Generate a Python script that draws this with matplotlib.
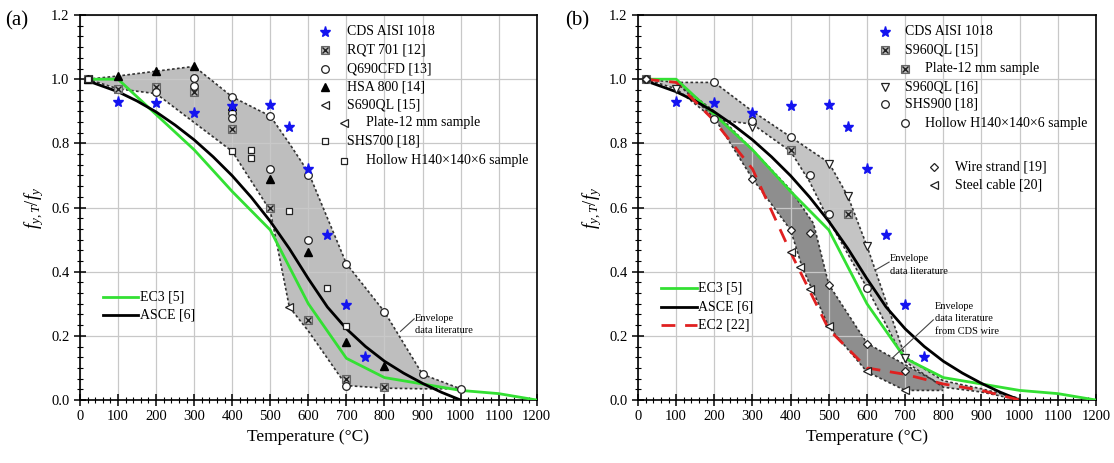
import matplotlib.pyplot as plt
from matplotlib.ticker import MultipleLocator

plt.rcParams['font.family'] = ['Liberation Serif', 'DejaVu Serif']
plt.rcParams['mathtext.fontset'] = 'custom'
plt.rcParams['mathtext.rm'] = 'Liberation Serif'
plt.rcParams['mathtext.it'] = 'Liberation Serif:italic'

# design curves
EC3_T = [20, 100, 200, 300, 400, 500, 600, 700, 800, 900, 1000, 1100, 1200]
EC3_K = [1.00, 1.00, 0.89, 0.78, 0.65, 0.53, 0.30, 0.13, 0.07, 0.05, 0.03, 0.02, 0.00]
ASCE_T = [20, 100, 150, 200, 250, 300, 350, 400, 450, 500, 550, 600,
          650, 700, 750, 800, 850, 900, 950, 1000]
ASCE_K = [0.995, 0.961, 0.932, 0.898, 0.857, 0.811, 0.758, 0.699, 0.632, 0.557,
          0.472, 0.378, 0.290, 0.222, 0.167, 0.121, 0.084, 0.052, 0.024, 0.0]
EC2_T = [20, 100, 200, 300, 400, 500, 600, 700, 800, 900, 1000]
EC2_K = [1.00, 0.99, 0.87, 0.72, 0.46, 0.22, 0.10, 0.08, 0.05, 0.03, 0.00]

# CDS AISI 1018 test results (both panels)
CDS_T = [100, 200, 300, 400, 500, 550, 600, 650, 700, 750]
CDS_K = [0.93, 0.925, 0.895, 0.915, 0.92, 0.85, 0.72, 0.515, 0.295, 0.135]

# panel (a) literature data
RQT_T = [20, 100, 200, 300, 400, 500, 600, 700, 800]
RQT_K = [1.0, 0.97, 0.975, 0.96, 0.845, 0.60, 0.25, 0.065, 0.04]
Q690_T = [20, 200, 300, 300, 400, 400, 400, 500, 500, 600, 600, 700, 700, 800, 900, 1000]
Q690_K = [1.0, 0.96, 1.005, 0.98, 0.945, 0.895, 0.88, 0.885, 0.72, 0.70, 0.50,
          0.425, 0.045, 0.275, 0.08, 0.035]
HSA_T = [20, 100, 200, 300, 400, 500, 600, 700, 800]
HSA_K = [1.0, 1.01, 1.025, 1.04, 0.915, 0.69, 0.46, 0.18, 0.105]
S690_T = [20, 550]
S690_K = [1.0, 0.29]
SHS700_T = [20, 400, 450, 450, 550, 650, 700]
SHS700_K = [1.0, 0.775, 0.78, 0.755, 0.59, 0.35, 0.23]

ENV_A_UP_T = [20, 100, 200, 300, 400, 500, 550, 600, 700, 800, 900, 1000]
ENV_A_UP = [1.0, 1.01, 1.025, 1.04, 0.945, 0.885, 0.80, 0.71, 0.425, 0.275, 0.08, 0.035]
ENV_A_LO_T = [20, 100, 200, 400, 500, 550, 600, 700, 800, 900, 1000]
ENV_A_LO = [1.0, 0.97, 0.955, 0.775, 0.59, 0.29, 0.215, 0.045, 0.037, 0.035, 0.035]

# panel (b) literature data
S960A_T = [20, 400, 550]
S960A_K = [1.0, 0.78, 0.58]
S960B_T = [100, 300, 500, 550, 600, 700]
S960B_K = [0.97, 0.85, 0.735, 0.635, 0.48, 0.13]
SHS900_T = [20, 200, 200, 300, 400, 450, 500, 600]
SHS900_K = [1.0, 0.99, 0.875, 0.87, 0.82, 0.70, 0.58, 0.35]
WIRE_T = [20, 300, 400, 450, 500, 600, 700]
WIRE_K = [1.0, 0.69, 0.53, 0.52, 0.36, 0.175, 0.09]
CABLE_T = [400, 425, 450, 500, 600, 700]
CABLE_K = [0.46, 0.415, 0.345, 0.23, 0.09, 0.03]

ENV_B1_UP_T = [20, 100, 200, 300, 400, 500, 550, 600, 700, 800, 900, 1000]
ENV_B1_UP = [1.0, 0.99, 0.99, 0.90, 0.82, 0.74, 0.635, 0.48, 0.135, 0.06, 0.035, 0.005]
ENV_B1_LO_T = [20, 100, 200, 300, 400, 450, 500, 600, 700, 800, 900, 1000]
ENV_B1_LO = [1.0, 0.97, 0.875, 0.86, 0.775, 0.68, 0.56, 0.35, 0.12, 0.04, 0.025, 0.0]
ENV_B2_UP_T = [100, 200, 300, 400, 460, 500, 600, 700, 800]
ENV_B2_UP = [0.99, 0.90, 0.78, 0.655, 0.55, 0.36, 0.177, 0.11, 0.045]
ENV_B2_LO_T = [100, 200, 300, 400, 430, 500, 600, 700, 800]
ENV_B2_LO = [0.99, 0.88, 0.69, 0.53, 0.415, 0.228, 0.088, 0.03, 0.03]

MARKERS = {
    'star': [dict(marker='*', color='#1414f0', ms=8)],
    'boxx': [dict(marker='s', mfc='#b4b4b4', mec='#666666', ms=5.5, mew=0.8),
             dict(marker='x', color='#222222', ms=4, mew=1.0)],
    'circle': [dict(marker='o', mfc='white', mec='#222222', ms=5.5, mew=0.9)],
    'tri': [dict(marker='^', color='black', ms=6)],
    'ltri': [dict(marker='<', mfc='white', mec='#222222', ms=5.5, mew=0.9)],
    'square': [dict(marker='s', mfc='white', mec='#222222', ms=5, mew=0.9)],
    'vtri': [dict(marker='v', mfc='white', mec='#222222', ms=5.5, mew=0.9)],
    'diamond': [dict(marker='D', mfc='white', mec='#222222', ms=4.5, mew=0.9)],
}
GREEN = '#33e033'
EDGE = dict(color='#333333', lw=1.2, ls=(0, (1.6, 1.4)), zorder=2)


def pts(ax, T, K, kind, **kw):
    for st in MARKERS[kind]:
        ax.plot(T, K, ls='none', clip_on=False, zorder=6, **st, **kw)


def envelope(ax, tu, up, tl, lo, color):
    ax.fill(list(tu) + list(tl[::-1]), list(up) + list(lo[::-1]),
            color=color, lw=0, zorder=0.3)
    ax.plot(tu, up, **EDGE)
    ax.plot(tl, lo, **EDGE)


def setup(ax):
    ax.set_xlim(0, 1200)
    ax.set_ylim(0, 1.2)
    ax.xaxis.set_major_locator(MultipleLocator(100))
    ax.xaxis.set_minor_locator(MultipleLocator(20))
    ax.yaxis.set_major_locator(MultipleLocator(0.2))
    ax.yaxis.set_minor_locator(MultipleLocator(0.2 / 6))
    ax.yaxis.set_major_formatter(lambda v, p: f'{v:.1f}')
    ax.tick_params(which='major', direction='inout', length=8, width=1.1, labelsize=10.5)
    ax.tick_params(which='minor', direction='inout', length=4, width=0.8)
    ax.grid(True, which='major', color='#c8c8c8', lw=0.9)
    ax.set_axisbelow(True)
    for s in ax.spines.values():
        s.set_linewidth(1.2)
    ax.set_xlabel('Temperature (°C)', fontsize=12.5)
    ax.set_ylabel(r'$f_{y,T}/f_y$', fontsize=13.5, labelpad=4)


def legend_rows(ax, rows, xm, xt):
    for y, kind, label, ind in rows:
        dx = 0.043 if ind else 0.0
        pts(ax, [xm + dx], [y], kind, transform=ax.transAxes)
        ax.text(xt + dx, y, label, transform=ax.transAxes, va='center', fontsize=10)


def line_legend(ax, rows):
    for y, style, label in rows:
        ax.plot([0.05, 0.128], [y, y], transform=ax.transAxes, **style)
        ax.text(0.131, y, label, transform=ax.transAxes, va='center', fontsize=10)


fig = plt.figure(figsize=(11.14, 4.63), dpi=100)
axa = fig.add_axes([0.0718, 0.136, 0.410, 0.8315])
axb = fig.add_axes([0.5727, 0.136, 0.4111, 0.8315])

ec3 = dict(color=GREEN, lw=2, zorder=4)
asce = dict(color='black', lw=2, zorder=4)
ec2 = dict(color='#e02020', lw=2, ls=(0, (5, 3.5)), zorder=4)

# ---- panel (a)
setup(axa)
envelope(axa, ENV_A_UP_T, ENV_A_UP, ENV_A_LO_T, ENV_A_LO, '#bebebe')
axa.plot(EC3_T, EC3_K, **ec3)
axa.plot(ASCE_T, ASCE_K, **asce)
pts(axa, RQT_T, RQT_K, 'boxx')
pts(axa, Q690_T, Q690_K, 'circle')
pts(axa, HSA_T, HSA_K, 'tri')
pts(axa, S690_T, S690_K, 'ltri')
pts(axa, SHS700_T, SHS700_K, 'square')
pts(axa, CDS_T, CDS_K, 'star')
axa.plot([878, 842], [0.253, 0.214], color='#444444', lw=0.8, zorder=5)
axa.text(880, 0.236, 'Envelope\ndata literature', fontsize=7.5, va='center',
         linespacing=1.5)
legend_rows(axa, [
    (0.957, 'star', 'CDS AISI 1018', False),
    (0.909, 'boxx', 'RQT 701 [12]', False),
    (0.861, 'circle', 'Q690CFD [13]', False),
    (0.814, 'tri', 'HSA 800 [14]', False),
    (0.767, 'ltri', 'S690QL [15]', False),
    (0.720, 'ltri', 'Plate-12 mm sample', True),
    (0.672, 'square', 'SHS700 [18]', False),
    (0.622, 'square', 'Hollow H140×140×6 sample', True),
], 0.536, 0.584)
line_legend(axa, [(0.268, ec3, 'EC3 [5]'), (0.221, asce, 'ASCE [6]')])

# ---- panel (b)
setup(axb)
envelope(axb, ENV_B1_UP_T, ENV_B1_UP, ENV_B1_LO_T, ENV_B1_LO, '#c4c4c4')
envelope(axb, ENV_B2_UP_T, ENV_B2_UP, ENV_B2_LO_T, ENV_B2_LO, '#8e8e8e')
axb.plot(EC3_T, EC3_K, **ec3)
axb.plot(ASCE_T, ASCE_K, **asce)
axb.plot(EC2_T, EC2_K, **ec2)
pts(axb, S960A_T, S960A_K, 'boxx')
pts(axb, S960B_T, S960B_K, 'vtri')
pts(axb, SHS900_T, SHS900_K, 'circle')
pts(axb, WIRE_T, WIRE_K, 'diamond')
pts(axb, CABLE_T, CABLE_K, 'ltri')
pts(axb, CDS_T, CDS_K, 'star')
axb.plot([658, 622], [0.43, 0.405], color='#444444', lw=0.8, zorder=5)
axb.text(660, 0.421, 'Envelope\ndata literature', fontsize=7.5, va='center',
         linespacing=1.5)
axb.plot([774, 670], [0.25, 0.135], color='#444444', lw=0.8, zorder=5)
axb.text(778, 0.253, 'Envelope\ndata literature\nfrom CDS wire', fontsize=7.5,
         va='center', linespacing=1.5)
legend_rows(axb, [
    (0.957, 'star', 'CDS AISI 1018', False),
    (0.909, 'boxx', 'S960QL [15]', False),
    (0.861, 'boxx', 'Plate-12 mm sample', True),
    (0.814, 'vtri', 'S960QL [16]', False),
    (0.768, 'circle', 'SHS900 [18]', False),
    (0.719, 'circle', 'Hollow H140×140×6 sample', True),
], 0.539, 0.583)
legend_rows(axb, [
    (0.606, 'diamond', 'Wire strand [19]', False),
    (0.558, 'ltri', 'Steel cable [20]', False),
], 0.646, 0.692)
axb.plot([0.05, 0.128], [0.195, 0.195], transform=axb.transAxes, **ec2)
line_legend(axb, [(0.291, ec3, 'EC3 [5]'), (0.242, asce, 'ASCE [6]')])
axb.text(0.131, 0.195, 'EC2 [22]', transform=axb.transAxes, va='center', fontsize=10)

fig.text(0.005, 0.955, '(a)', fontsize=15, va='center')
fig.text(0.507, 0.955, '(b)', fontsize=15, va='center')

fig.savefig('out.png', dpi=100)
